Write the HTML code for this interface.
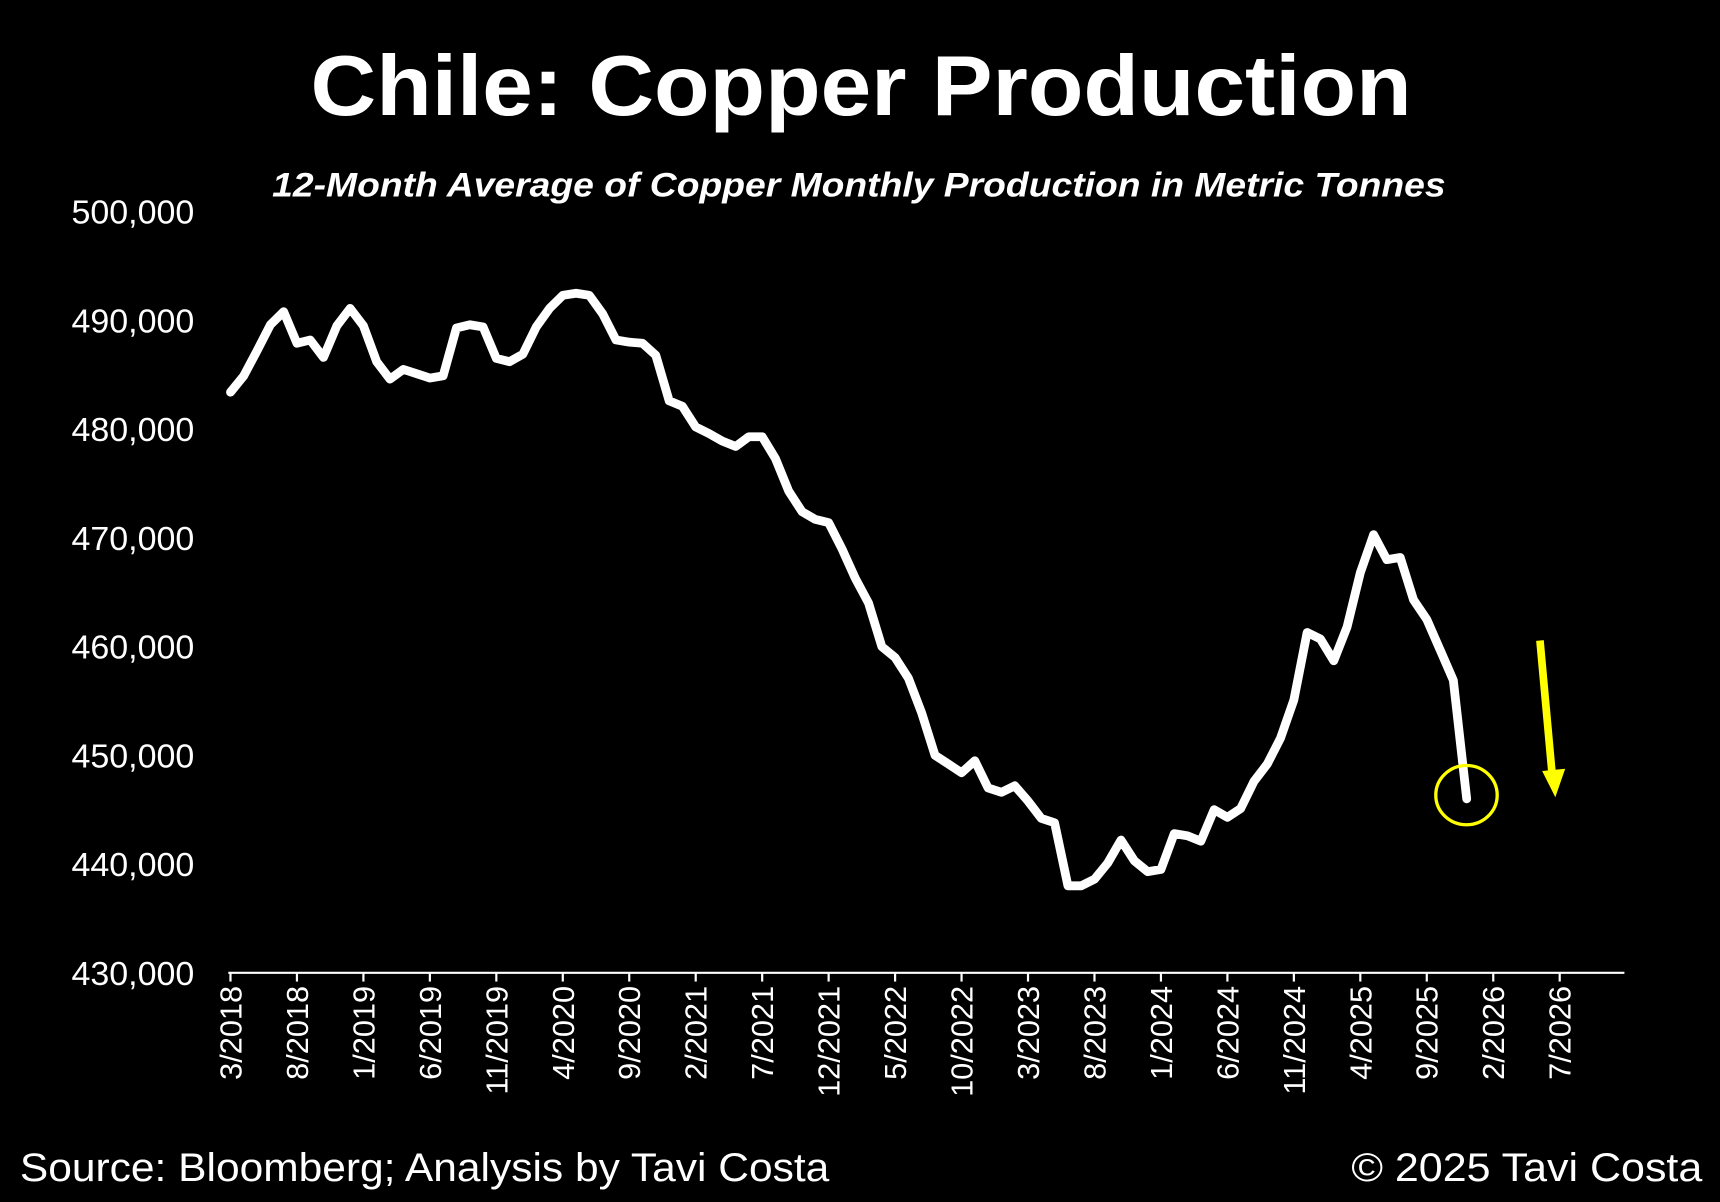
<!DOCTYPE html>
<html><head><meta charset="utf-8"><style>
html,body{margin:0;padding:0;background:#000;}
svg{display:block;}
text{font-family:"Liberation Sans",sans-serif;fill:#fff;}
</style></head><body>
<svg id="chart" width="1720" height="1202" viewBox="0 0 1568 1096" xmlns="http://www.w3.org/2000/svg">
<rect width="1568" height="1096" fill="#000"/>
<text x="785" y="105" text-anchor="middle" font-size="78" font-weight="bold" textLength="1004" lengthAdjust="spacingAndGlyphs">Chile: Copper Production</text>
<text x="783" y="179" text-anchor="middle" font-size="31" font-weight="bold" font-style="italic" textLength="1070" lengthAdjust="spacingAndGlyphs">12-Month Average of Copper Monthly Production in Metric Tonnes</text>
<g id="yaxis"></g>
<g id="xaxis"></g>
<g id="series"></g>
<ellipse cx="1337" cy="725" rx="28" ry="27" fill="none" stroke="#ffff00" stroke-width="3"/>
<line x1="1404" y1="584" x2="1415" y2="705" stroke="#ffff00" stroke-width="7"/>
<polygon points="1406,703 1427,701 1418,727" fill="#ffff00"/>
<text x="18" y="1077" font-size="36" textLength="738" lengthAdjust="spacingAndGlyphs">Source: Bloomberg; Analysis by Tavi Costa</text>
<text x="1232" y="1077" font-size="36" textLength="320" lengthAdjust="spacingAndGlyphs">© 2025 Tavi Costa</text>
</svg>
<script>
const yTicks=[430000,440000,450000,460000,470000,480000,490000,500000];
const yTickLabels=["430,000","440,000","450,000","460,000","470,000","480,000","490,000","500,000"];
const xTickLabels=["3/2018","8/2018","1/2019","6/2019","11/2019","4/2020","9/2020","2/2021","7/2021","12/2021","5/2022","10/2022","3/2023","8/2023","1/2024","6/2024","11/2024","4/2025","9/2025","2/2026","7/2026"];
const xTickMonths=[0,5,10,15,20,25,30,35,40,45,50,55,60,65,70,75,80,85,90,95,100];
const production=[483.4,484.9,487.2,489.6,490.8,487.9,488.2,486.6,489.5,491.1,489.5,486.2,484.6,485.5,485.1,484.7,484.9,489.3,489.6,489.4,486.5,486.2,486.9,489.4,491.1,492.3,492.5,492.3,490.6,488.2,488.0,487.9,486.8,482.6,482.1,480.2,479.6,478.9,478.4,479.3,479.3,477.3,474.3,472.4,471.7,471.4,469.0,466.3,464.0,460.0,459.0,457.1,453.9,450.0,449.2,448.4,449.5,447.0,446.6,447.2,445.8,444.2,443.8,438.0,438.0,438.6,440.1,442.2,440.3,439.3,439.5,442.8,442.6,442.1,445.0,444.3,445.1,447.6,449.2,451.6,455.1,461.3,460.7,458.7,461.8,466.8,470.3,468.0,468.2,464.3,462.5,459.7,456.9,446.0].map(v=>v*1000);
const NS="http://www.w3.org/2000/svg";
const yMin=430000,yMax=500000,yTop=193,yBot=887;
const xLeft=210,pxPerMonth=12.12;
function yScale(v){return yBot-(v-yMin)/(yMax-yMin)*(yBot-yTop);}
function xScale(m){return xLeft+m*pxPerMonth;}
function mk(tag,attrs,parent){const e=document.createElementNS(NS,tag);for(const k in attrs)e.setAttribute(k,attrs[k]);parent.appendChild(e);return e;}
const ya=document.getElementById('yaxis');
yTicks.forEach((t,i)=>{
  const tx=mk('text',{x:177,y:yScale(t)+11,'text-anchor':'end','font-size':'30',textLength:'112',lengthAdjust:'spacingAndGlyphs'},ya);
  
  
  tx.textContent=yTickLabels[i];
});
const xa=document.getElementById('xaxis');
const ax=mk('line',{x1:208,y1:yBot,x2:1481,y2:yBot,stroke:'#fff','stroke-width':2},xa);


xTickMonths.forEach((m,i)=>{
  const x=xScale(m);
  const tk=mk('line',{x1:x,y1:yBot,x2:x,y2:yBot+8,stroke:'#fff','stroke-width':2},xa);
  
  
  const tx=mk('text',{x:0,y:0,'text-anchor':'end','font-size':'28',transform:`translate(${x+10},${yBot+12}) rotate(-90)`},xa);
  
  
  tx.textContent=xTickLabels[i];
});
const pts=production.map((v,i)=>xScale(i).toFixed(1)+','+yScale(v).toFixed(1)).join(' ');
const pl=mk('polyline',{points:pts,fill:'none',stroke:'#fff','stroke-width':8,'stroke-linejoin':'round','stroke-linecap':'round'},document.getElementById('series'));


</script>
</body></html>
